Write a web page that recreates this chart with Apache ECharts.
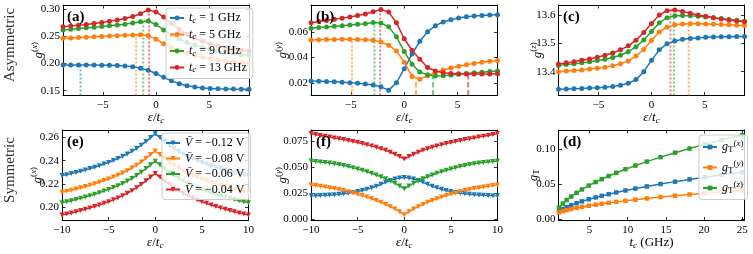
<!DOCTYPE html>
<html><head><meta charset="utf-8">
<script src="https://cdn.jsdelivr.net/npm/echarts@6/dist/echarts.min.js"></script>
<style>html,body{margin:0;padding:0;background:#fff}#c{width:753px;height:254px}</style>
</head><body><div id="c"></div>
<script>
// ---------------- DATA ----------------
const xTop = [-8.75,-8.02,-7.29,-6.56,-5.83,-5.10,-4.38,-3.65,-2.92,-2.19,-1.46,-0.73,0,0.73,1.46,2.19,2.92,3.65,4.38,5.10,5.83,6.56,7.29,8.02,8.75];
const aBlue   = [0.1975,0.1975,0.1975,0.1974,0.1972,0.1970,0.1967,0.1962,0.1955,0.1940,0.1915,0.1875,0.1815,0.1745,0.1680,0.1627,0.1590,0.1565,0.1550,0.1541,0.1535,0.1531,0.1528,0.1526,0.1525];
const aOrange = [0.2465,0.2472,0.2479,0.2486,0.2493,0.2500,0.2507,0.2514,0.2521,0.2527,0.2530,0.2515,0.2450,0.2365,0.2290,0.2230,0.2183,0.2146,0.2115,0.2090,0.2067,0.2047,0.2030,0.2014,0.2000];
const aGreen  = [0.2620,0.2632,0.2645,0.2658,0.2671,0.2684,0.2697,0.2711,0.2727,0.2747,0.2772,0.2785,0.2720,0.2620,0.2530,0.2455,0.2390,0.2340,0.2298,0.2262,0.2232,0.2207,0.2186,0.2167,0.2150];
const aRed    = [0.2680,0.2692,0.2706,0.2721,0.2738,0.2757,0.2778,0.2802,0.2830,0.2868,0.2920,0.2990,0.2950,0.2860,0.2740,0.2630,0.2540,0.2468,0.2410,0.2362,0.2322,0.2290,0.2265,0.2245,0.2230];
const bBlue   = [0.0213,0.0211,0.0209,0.0207,0.0204,0.0201,0.0197,0.0191,0.0182,0.0168,0.0142,0.0200,0.0310,0.0425,0.0525,0.0600,0.0648,0.0677,0.0695,0.0708,0.0717,0.0723,0.0728,0.0731,0.0734];
const bOrange = [0.0535,0.0537,0.0539,0.0540,0.0541,0.0541,0.0540,0.0538,0.0533,0.0520,0.0495,0.0450,0.0360,0.0250,0.0228,0.0255,0.0280,0.0300,0.0316,0.0330,0.0342,0.0352,0.0361,0.0368,0.0374];
const bGreen  = [0.0627,0.0633,0.0638,0.0643,0.0648,0.0653,0.0658,0.0663,0.0672,0.0668,0.0640,0.0560,0.0445,0.0345,0.0285,0.0262,0.0253,0.0255,0.0260,0.0266,0.0272,0.0278,0.0283,0.0288,0.0293];
const bRed    = [0.0671,0.0680,0.0689,0.0698,0.0707,0.0716,0.0727,0.0740,0.0757,0.0775,0.0755,0.0670,0.0545,0.0455,0.0385,0.0320,0.0292,0.0278,0.0273,0.0270,0.0268,0.0268,0.0269,0.0269,0.0270];
const cBlue   = [13.338,13.339,13.340,13.341,13.342,13.343,13.345,13.348,13.352,13.359,13.372,13.400,13.440,13.477,13.498,13.508,13.514,13.517,13.519,13.521,13.522,13.523,13.523,13.524,13.524];
const cOrange = [13.400,13.402,13.404,13.406,13.409,13.412,13.416,13.421,13.428,13.438,13.455,13.478,13.510,13.540,13.557,13.565,13.568,13.569,13.569,13.568,13.567,13.566,13.565,13.564,13.563];
const cGreen  = [13.422,13.425,13.428,13.431,13.435,13.439,13.444,13.450,13.458,13.470,13.488,13.512,13.542,13.572,13.590,13.597,13.598,13.597,13.595,13.593,13.590,13.587,13.584,13.581,13.578];
const cRed    = [13.427,13.431,13.435,13.440,13.445,13.451,13.458,13.466,13.477,13.491,13.511,13.538,13.570,13.600,13.615,13.617,13.612,13.606,13.600,13.595,13.590,13.586,13.582,13.579,13.576];

// marked extrema (vertical dotted / dashed guides)
const aPeakX = [-7.1,-1.87,-1.2,-0.65];          const aPeakY = [0.1975,0.2530,0.2785,0.2990];
const bPeakX = [null,-4.9,-2.8,-2.25];           const bPeakY = [null,0.0541,0.0672,0.0775];
const bMinX  = [null,1.1,2.7,6.0];               const bMinY  = [null,0.0218,0.0253,0.0268];
const cPeakX = [null,3.5,2.1,1.78];              const cPeakY = [null,13.569,13.597,13.617];

const xBot = [-10,-9.5,-9,-8.5,-8,-7.5,-7,-6.5,-6,-5.5,-5,-4.5,-4,-3.5,-3,-2.5,-2,-1.5,-1,-0.5,0,0.5,1,1.5,2,2.5,3,3.5,4,4.5,5,5.5,6,6.5,7,7.5,8,8.5,9,9.5,10];
const eBlue   = [0.2272,0.2280,0.2289,0.2299,0.2309,0.2320,0.2332,0.2344,0.2357,0.2371,0.2385,0.2401,0.2418,0.2437,0.2457,0.2480,0.2505,0.2533,0.2565,0.2598,0.2630,0.2598,0.2565,0.2533,0.2505,0.2480,0.2457,0.2437,0.2418,0.2401,0.2385,0.2371,0.2357,0.2344,0.2332,0.2320,0.2309,0.2299,0.2289,0.2280,0.2272];
const eOrange = [0.2130,0.2138,0.2147,0.2157,0.2167,0.2178,0.2190,0.2202,0.2215,0.2229,0.2243,0.2259,0.2276,0.2294,0.2314,0.2337,0.2361,0.2389,0.2420,0.2452,0.2483,0.2452,0.2420,0.2389,0.2361,0.2337,0.2314,0.2294,0.2276,0.2259,0.2243,0.2229,0.2215,0.2202,0.2190,0.2178,0.2167,0.2157,0.2147,0.2138,0.2130];
const eGreen  = [0.2040,0.2048,0.2057,0.2067,0.2077,0.2088,0.2100,0.2112,0.2125,0.2139,0.2153,0.2169,0.2186,0.2205,0.2225,0.2248,0.2273,0.2301,0.2332,0.2364,0.2395,0.2364,0.2332,0.2301,0.2273,0.2248,0.2225,0.2205,0.2186,0.2169,0.2153,0.2139,0.2125,0.2112,0.2100,0.2088,0.2077,0.2067,0.2057,0.2048,0.2040];
const eRed    = [0.1935,0.1943,0.1952,0.1962,0.1972,0.1983,0.1995,0.2007,0.2020,0.2034,0.2048,0.2064,0.2081,0.2100,0.2120,0.2143,0.2168,0.2196,0.2227,0.2259,0.2290,0.2259,0.2227,0.2196,0.2168,0.2143,0.2120,0.2100,0.2081,0.2064,0.2048,0.2034,0.2020,0.2007,0.1995,0.1983,0.1972,0.1962,0.1952,0.1943,0.1935];
const fBlue   = [0.0222,0.0223,0.0225,0.0227,0.0230,0.0233,0.0237,0.0242,0.0248,0.0255,0.0263,0.0273,0.0285,0.0299,0.0315,0.0333,0.0352,0.0370,0.0385,0.0394,0.0398,0.0394,0.0385,0.0370,0.0352,0.0333,0.0315,0.0299,0.0285,0.0273,0.0263,0.0255,0.0248,0.0242,0.0237,0.0233,0.0230,0.0227,0.0225,0.0223,0.0222];
const fOrange = [0.0327,0.0321,0.0315,0.0308,0.0300,0.0292,0.0283,0.0273,0.0262,0.0250,0.0238,0.0225,0.0211,0.0195,0.0178,0.0160,0.0140,0.0118,0.0095,0.0070,0.0040,0.0070,0.0095,0.0118,0.0140,0.0160,0.0178,0.0195,0.0211,0.0225,0.0238,0.0250,0.0262,0.0273,0.0283,0.0292,0.0300,0.0308,0.0315,0.0321,0.0327];
const fGreen  = [0.0558,0.0554,0.0549,0.0544,0.0538,0.0531,0.0523,0.0514,0.0504,0.0493,0.0481,0.0468,0.0454,0.0439,0.0423,0.0406,0.0387,0.0366,0.0343,0.0318,0.0290,0.0318,0.0343,0.0366,0.0387,0.0406,0.0423,0.0439,0.0454,0.0468,0.0481,0.0493,0.0504,0.0514,0.0523,0.0531,0.0538,0.0544,0.0549,0.0554,0.0558];
const fRed    = [0.0822,0.0813,0.0804,0.0796,0.0788,0.0780,0.0772,0.0764,0.0755,0.0746,0.0736,0.0726,0.0715,0.0703,0.0690,0.0676,0.0660,0.0642,0.0622,0.0600,0.0577,0.0600,0.0622,0.0642,0.0660,0.0676,0.0690,0.0703,0.0715,0.0726,0.0736,0.0746,0.0755,0.0764,0.0772,0.0780,0.0788,0.0796,0.0804,0.0813,0.0822];

const tD = [1.0,1.5,2.0,2.6,3.3,4.0,4.9,5.8,6.6,7.5,8.5,9.7,11.0,12.5,14.3,16.2,18.1,20.1,22.3,25.0];
const dBlue   = [0.0115,0.0146,0.0172,0.0200,0.0228,0.0254,0.0284,0.0311,0.0333,0.0357,0.0382,0.0410,0.0438,0.0468,0.0503,0.0537,0.0569,0.0600,0.0634,0.0673];
const dOrange = [0.0096,0.0114,0.0129,0.0144,0.0161,0.0175,0.0192,0.0207,0.0220,0.0233,0.0247,0.0263,0.0279,0.0296,0.0316,0.0335,0.0353,0.0371,0.0390,0.0413];
const dGreen  = [0.0165,0.0223,0.0273,0.0324,0.0377,0.0425,0.0481,0.0531,0.0573,0.0617,0.0663,0.0715,0.0767,0.0824,0.0888,0.0952,0.1011,0.1071,0.1133,0.1205];

// tick labels
const xTicksTop = [-5,0,5];
const xTicksBot = [-10,-5,0,5,10];
const xTicksD = [5,10,15,20,25];
const yTicksA = [0.15,0.20,0.25,0.30];
const yTicksB = [0.02,0.04,0.06];
const yTicksC = [13.4,13.5,13.6];
const yTicksE = [0.20,0.22,0.24,0.26];
const yTicksF = [0,0.025,0.05,0.075];
const yTicksD = [0,0.05,0.10];

const legendTc = ['1','5','9','13'];
const legendV = ['\u22120.12','\u22120.08','\u22120.06','\u22120.04'];
const legendG = ['x','y','z'];

// ---------------- STYLE / LAYOUT ----------------
const SERIF = '"Liberation Serif","DejaVu Serif",serif';
const COL = ['#1f77b4','#ff7f0e','#2ca02c','#d62728'];
function tok(size, italic, pad){
  return {fontFamily: SERIF, fontSize: size, fontStyle: italic ? 'italic' : 'normal', color:'#000', padding: pad||[0,0,0,0]};
}
const rich = {
  n: tok(12,false), i: tok(12,true),
  s: tok(9,true,[5,0,0,0]), sr: tok(9,false,[6,0,0,0]),
  p: tok(9,false,[0,0,7,0]), pi: tok(9,true,[0,0,7,0]),
  N: tok(13,false), I: tok(13,true),
  S: tok(9,true,[6,0,0,0]), SR: tok(9,false,[6,0,0,0]),
  P: tok(9,false,[0,0,8,0]), PI: tok(9,true,[0,0,8,0])
};
const fmtX = v => v < 0 ? '\u2212' + Math.abs(v) : String(v);
const epsName = '{I|\u03b5}{N|/}{I|t}{S|c}';
const gName = c => '{I|g}{P|(}{PI|' + c + '}{P|)}';

const panels = [
  {grid:{left:63, top:5, width:186, height:90.5}, xr:[-8.75,8.75], yr:[0.141,0.308], xt:xTicksTop, yt:yTicksA, yd:2, xn:epsName, yn:gName('x'), yg:16},
  {grid:{left:311, top:5, width:186.5, height:90.5}, xr:[-8.75,8.75], yr:[0.010,0.081], xt:xTicksTop, yt:yTicksB, yd:2, xn:epsName, yn:gName('y'), yg:20},
  {grid:{left:558.5, top:5, width:186, height:90.5}, xr:[-8.75,8.75], yr:[13.316,13.635], xt:xTicksTop, yt:yTicksC, yd:1, xn:epsName, yn:gName('z'), yg:12},
  {grid:{left:62, top:130, width:186.5, height:90.5}, xr:[-10,10], yr:[0.1887,0.2663], xt:xTicksBot, yt:yTicksE, yd:2, xn:epsName, yn:gName('x'), yg:16},
  {grid:{left:311, top:130, width:186.5, height:90.5}, xr:[-10,10], yr:[-0.0015,0.0856], xt:xTicksBot, yt:yTicksF, yd:3, xn:epsName, yn:gName('y'), yg:20},
  {grid:{left:558.5, top:130, width:186, height:90.5}, xr:[0.93,25.3], yr:[-0.002,0.1277], xt:xTicksD, yt:yTicksD, yd:2, xn:'{I|t}{S|c}{N| (GHz)}', yn:'{I|g}{SR|T}', yg:17}
];

const grids = [], xAxes = [], yAxes = [];
const tickLine = {color:'#000', width:0.8};
const axLine = {show:true, onZero:false, lineStyle:{color:'#000', width:1}};
const lblStyle = {fontFamily:SERIF, fontSize:11, color:'#000'};
panels.forEach((p, k) => {
  grids.push(Object.assign({containLabel:false}, p.grid));
  const base = {type:'value', gridIndex:k, min:p.xr[0], max:p.xr[1], splitLine:{show:false}, axisLine:axLine};
  xAxes.push(Object.assign({}, base, {position:'bottom',
    axisTick:{show:true, inside:true, length:3.5, customValues:p.xt, lineStyle:tickLine},
    axisLabel:Object.assign({show:true, customValues:p.xt, formatter:fmtX, margin:4}, lblStyle),
    name:p.xn, nameLocation:'middle', nameGap:15, nameMoveOverlap:false, nameTextStyle:{rich:rich}}));
  xAxes.push(Object.assign({}, base, {position:'top',
    axisTick:{show:true, inside:true, length:3.5, customValues:p.xt, lineStyle:tickLine},
    axisLabel:{show:false}}));
  const ybase = {type:'value', gridIndex:k, min:p.yr[0], max:p.yr[1], splitLine:{show:false}, axisLine:axLine};
  yAxes.push(Object.assign({}, ybase, {position:'left',
    axisTick:{show:true, inside:true, length:3.5, customValues:p.yt, lineStyle:tickLine},
    axisLabel:Object.assign({show:true, customValues:p.yt, formatter: v => v.toFixed(p.yd), margin:3}, lblStyle),
    name:p.yn, nameLocation:'middle', nameGap:p.yg, nameRotate:90, nameMoveOverlap:false, nameTextStyle:{rich:rich}}));
  yAxes.push(Object.assign({}, ybase, {position:'right',
    axisTick:{show:true, inside:true, length:3.5, customValues:p.yt, lineStyle:tickLine},
    axisLabel:{show:false}}));
});

const series = [];
function addLines(k, xs, arrs, prefix, symbol, size, rot){
  arrs.forEach((ys, i) => {
    series.push({type:'line', name: prefix + i, xAxisIndex:2*k, yAxisIndex:2*k,
      data: xs.map((x, j) => [x, ys[j]]), symbol: symbol, symbolSize: size, symbolRotate: rot||0,
      showSymbol:true, smooth:false, z:3,
      lineStyle:{color:COL[i], width:1.5}, itemStyle:{color:COL[i]}});
  });
}
function addGuides(k, xs, ys, dash, width){
  xs.forEach((x, i) => {
    if (x === null) return;
    series.push({type:'line', name:'guide'+k+'_'+i, xAxisIndex:2*k, yAxisIndex:2*k,
      data:[[x, panels[k].yr[0]], [x, ys[i]]], symbol:'none', silent:true, z:2,
      lineStyle:{color:COL[i], width:width, type:dash, opacity:0.6}});
  });
}
addGuides(0, aPeakX, aPeakY, [2,2], 2);
addGuides(1, bPeakX, bPeakY, [2,2], 2);
addGuides(1, bMinX, bMinY, [5.5,2.5], 2.2);
addGuides(2, cPeakX, cPeakY, [2,2], 2);
addLines(0, xTop, [aBlue,aOrange,aGreen,aRed], 'a', 'circle', 5);
addLines(1, xTop, [bBlue,bOrange,bGreen,bRed], 'b', 'circle', 5);
addLines(2, xTop, [cBlue,cOrange,cGreen,cRed], 'c', 'circle', 5);
addLines(3, xBot, [eBlue,eOrange,eGreen,eRed], 'e', 'triangle', 5, 180);
addLines(4, xBot, [fBlue,fOrange,fGreen,fRed], 'f', 'triangle', 5, 180);
addLines(5, tD, [dBlue,dOrange,dGreen], 'd', 'rect', 4.5);

const legBase = {orient:'vertical', backgroundColor:'rgba(255,255,255,0.8)', borderColor:'#cccccc', borderWidth:1,
  borderRadius:3, itemWidth:14, itemHeight:6, itemGap:3.5, textStyle:{rich:rich, fontFamily:SERIF, fontSize:12}, selectedMode:false};
const legends = [
  Object.assign({}, legBase, {left:166, top:8, padding:[4,6,4,3], data:['a0','a1','a2','a3'],
    formatter: n => '{i|t}{s|c}{n| = ' + legendTc[+n.slice(1)] + ' GHz}'}),
  Object.assign({}, legBase, {left:162, top:133, padding:[4,6,4,3], data:['e0','e1','e2','e3'], symbolRotate:'inherit',
    formatter: n => '{i|V\u0304}{n| = ' + legendV[+n.slice(1)] + ' V}'}),
  Object.assign({}, legBase, {left:699, top:135, padding:[4,4,4,3], itemGap:5, data:['d0','d1','d2'],
    formatter: n => '{i|g}{sr|T}{p|(}{pi|' + legendG[+n.slice(1)] + '}{p|)}'})
];

const panelLbl = (t, l, tp) => ({text:t, left:l, top:tp, padding:0, textStyle:{fontFamily:SERIF, fontWeight:'bold', fontSize:15, color:'#000'}});
const titles = [panelLbl('(a)',67,10), panelLbl('(b)',316,10), panelLbl('(c)',563,10),
                panelLbl('(e)',67,135), panelLbl('(f)',316,135), panelLbl('(d)',563,135)];

const chart = echarts.init(document.getElementById('c'), null, {renderer:'canvas'});
chart.setOption({
  animation:false, backgroundColor:'#fff',
  title: titles, grid: grids, xAxis: xAxes, yAxis: yAxes, legend: legends, series: series,
  graphic:[
    {type:'text', x:10, y:45, rotation:Math.PI/2, style:{text:'Asymmetric', font:'15px ' + SERIF, fill:'#333', textAlign:'center', textVerticalAlign:'middle'}},
    {type:'text', x:10, y:170, rotation:Math.PI/2, style:{text:'Symmetric', font:'15px ' + SERIF, fill:'#333', textAlign:'center', textVerticalAlign:'middle'}}
  ]
});
</script></body></html>
